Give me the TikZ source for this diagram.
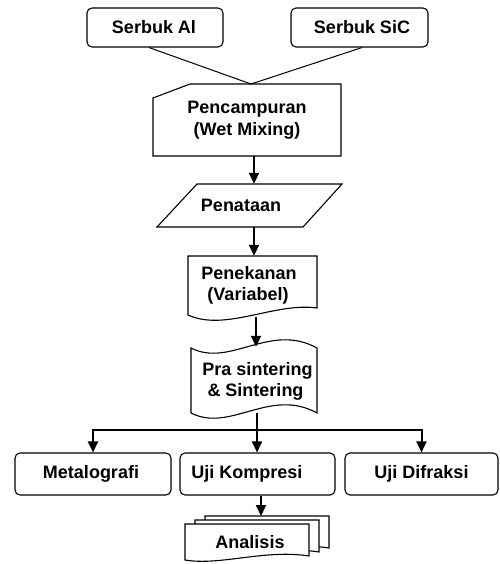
\documentclass[tikz,border=0pt]{standalone}
\usepackage{fontspec}
\setmainfont{Liberation Sans}
\usetikzlibrary{arrows.meta}
\begin{document}
\begin{tikzpicture}[x=1pt,y=-1pt,
  font=\bfseries\fontsize{18}{21.5}\selectfont,
  box/.style={draw, line width=1.1pt, rounded corners=5pt, inner sep=0pt, align=center},
  shp/.style={draw=none, inner sep=0pt, align=center},
  outl/.style={line width=1.1pt, line join=miter, fill=white},
  arr/.style={line width=2pt, -{Triangle[length=11pt,width=10pt]}},
  thin/.style={line width=1pt},
  trunk/.style={line width=2pt}]
\useasboundingbox (0,0) rectangle (499,564);

% shape outlines
\draw[outl] (153,98) -- (190,84) -- (341,84) -- (341,156) -- (153,156) -- cycle;
\draw[outl] (197,184) -- (342,184) -- (303,227) -- (157,227) -- cycle;
\draw[outl] (188,256) -- (317,256) -- (317,308) .. controls (275,302) and (225,332) .. (188,315) -- cycle;
\draw[outl] (191,348) .. controls (230,368) and (270,322) .. (317,348) -- (317,413)
   .. controls (270,387) and (230,433) .. (191,413) -- cycle;
\foreach \dx/\dy in {20/-8, 10/-4, 0/0}
  \draw[outl, shift={(\dx,\dy)}] (185,524) -- (309,524) -- (309,556)
     .. controls (265,549) and (220,566) .. (185,560) -- cycle;

% nodes
\node[box, minimum width=136pt, minimum height=39pt] (al) at (155,27.5) {Serbuk Al\hspace*{2pt}};
\node[box, minimum width=137pt, minimum height=39pt] (sic) at (359.5,27.5) {\hspace*{5pt}Serbuk SiC};
\node[shp, minimum width=188pt, minimum height=72pt] (mix) at (247,120) {Pencampuran\\(Wet Mixing)};
\node[shp, minimum width=185pt, minimum height=43pt] (tata) at (249.5,205.5) {Penataan\hspace*{17pt}};
\node[shp, minimum width=129pt, minimum height=59pt] (tekan) at (252.5,285.5) {Penekanan\hspace*{7pt}\\(Variabel)\hspace*{9pt}};
\node[shp, minimum width=126pt, minimum height=65pt] (pra) at (254,381.5) {\hspace*{7pt}Pra sintering\\\hspace*{3pt}\& Sintering};
\node[box, minimum width=156pt, minimum height=42pt] (metal) at (93,474) {Metalografi\hspace*{4pt}};
\node[box, minimum width=155pt, minimum height=42pt] (komp) at (257.5,474) {Uji Kompresi\hspace*{21pt}};
\node[box, minimum width=153pt, minimum height=42pt] (difr) at (421.5,474) {Uji Difraksi};
\node[shp, minimum width=124pt, minimum height=36pt] (ana) at (247,542) {\hspace*{6pt}Analisis};

% connectors
\coordinate (join) at (251,84);
\draw[thin] ([xshift=-6pt]al.south) -- (join) -- ([xshift=2.5pt]sic.south);
\draw[arr] ([xshift=7pt]mix.south) -- ([xshift=7pt]mix.south |- tata.north);
\draw[arr] ([xshift=4.5pt]tata.south) -- ([xshift=4.5pt]tata.south |- tekan.north);
\draw[arr] ([xshift=3.5pt,yshift=-1.5pt]tekan.south) -- ([xshift=2pt,yshift=2pt]pra.north);
\coordinate (split) at (257,430);
\draw[trunk] ([xshift=3pt,yshift=1.5pt]pra.south) -- (split);
\draw[arr] (split) -| (metal.north);
\draw[arr] (split) -| (difr.north);
\draw[arr] (split) -- (split |- komp.north);
\coordinate (anatop) at (261,516);
\draw[arr] (komp.south -| anatop) -- (anatop);
\end{tikzpicture}
\end{document}
